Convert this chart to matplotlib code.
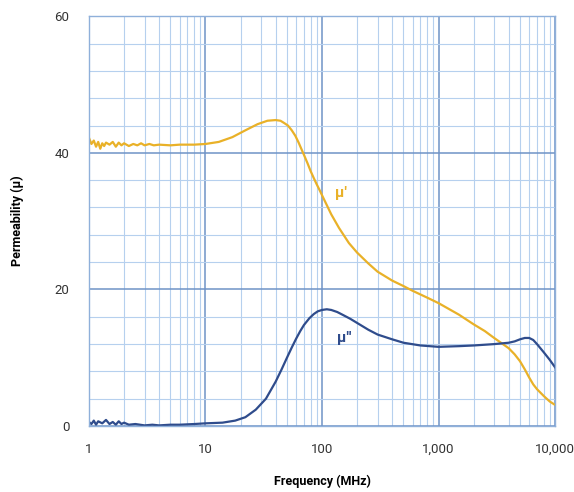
import numpy as np
import matplotlib
matplotlib.use("Agg")
import matplotlib.pyplot as plt
from matplotlib.ticker import FixedLocator, FuncFormatter

# frequency (MHz) and permeability readings
freq_real = [1.0, 1.05, 1.1, 1.15, 1.2, 1.25, 1.3, 1.35, 1.4, 1.5, 1.6, 1.7, 1.8, 1.9,
             2.0, 2.2, 2.4, 2.6, 2.8, 3.0, 3.3, 3.6, 4, 5, 6, 8, 10, 13, 17, 22, 28,
             34, 40, 44, 47, 51, 55, 59, 63, 66, 70, 75, 80, 85, 90, 95, 100, 120, 140,
             170, 200, 250, 300, 400, 500, 600, 800, 1000, 1500, 2000, 2500, 3000,
             3500, 4000, 4500, 5000, 5500, 6000, 6500, 7000, 8000, 9000, 10000]
mu_real = [42.2, 41.3, 41.8, 40.9, 41.6, 40.6, 41.4, 41.0, 41.5, 41.2, 41.6, 40.9, 41.5, 41.1,
           41.4, 41.0, 41.3, 41.1, 41.4, 41.1, 41.3, 41.1, 41.2, 41.1, 41.2, 41.2, 41.3, 41.6,
           42.3, 43.3, 44.2, 44.7, 44.8, 44.7, 44.4, 44.0, 43.3, 42.5, 41.5, 40.7, 39.7, 38.5,
           37.3, 36.3, 35.4, 34.6, 33.8, 31.0, 29.0, 26.8, 25.4, 23.8, 22.6, 21.3, 20.5, 19.8,
           18.8, 18.0, 16.3, 14.9, 13.9, 12.9, 12.1, 11.4, 10.5, 9.5, 8.3, 7.1, 6.1, 5.4, 4.4,
           3.6, 3.1]

freq_imag = [1.0, 1.05, 1.1, 1.15, 1.2, 1.3, 1.4, 1.5, 1.6, 1.7, 1.8, 1.9, 2.0, 2.2, 2.5,
             3, 3.5, 4, 5, 6, 8, 10, 14, 18, 22, 27, 33, 40, 45, 50, 55, 60, 65, 70, 78,
             85, 92, 100, 110, 120, 135, 150, 175, 200, 250, 300, 400, 500, 700, 1000,
             1500, 2000, 3000, 4000, 4500, 5000, 5500, 6000, 6500, 7000, 8000, 9000, 10000]
mu_imag = [0.6, 0.3, 0.8, 0.2, 0.7, 0.4, 0.9, 0.3, 0.6, 0.2, 0.7, 0.3, 0.5, 0.2, 0.3,
           0.1, 0.2, 0.1, 0.2, 0.2, 0.3, 0.4, 0.5, 0.8, 1.3, 2.4, 4.0, 6.5, 8.3, 10.0, 11.5,
           12.8, 13.9, 14.8, 15.8, 16.4, 16.8, 17.0, 17.1, 17.0, 16.7, 16.3, 15.7, 15.1,
           14.1, 13.4, 12.7, 12.2, 11.8, 11.6, 11.7, 11.8, 12.0, 12.2, 12.4, 12.7, 12.9,
           12.9, 12.6, 12.0, 10.8, 9.7, 8.6]

x_ticks = [1, 10, 100, 1000, 10000]
y_ticks = [0, 20, 40, 60]

gold = "#E9B128"
navy = "#2F4C8C"

plt.rcParams['font.family'] = ['Roboto', 'DejaVu Sans']

fig = plt.figure(figsize=(5.74, 4.92), dpi=100)
ax = fig.add_axes([0.155, 0.134, 0.812, 0.833])

ax.plot(freq_real, mu_real, color=gold, lw=1.6, solid_joinstyle="round")
ax.plot(freq_imag, mu_imag, color=navy, lw=1.6, solid_joinstyle="round")

ax.set_xscale("log")
ax.set_xlim(1, 10000)
ax.set_ylim(0, 60)

# grid: light minor lines, darker at decades / every 20
minor_x = [m * 10 ** d for d in range(4) for m in range(2, 10)]
ax.xaxis.set_major_locator(FixedLocator(x_ticks))
ax.xaxis.set_minor_locator(FixedLocator(minor_x))
ax.yaxis.set_major_locator(FixedLocator(y_ticks))
ax.yaxis.set_minor_locator(FixedLocator([v for v in range(4, 60, 4) if v % 20]))
ax.xaxis.set_major_formatter(FuncFormatter(lambda v, p: "{:,.0f}".format(v)))
ax.xaxis.set_minor_formatter(FuncFormatter(lambda v, p: ""))

ax.grid(which="major", color="#6F93C6", lw=1.1)
ax.grid(which="minor", color="#B6D0EE", lw=0.8)
ax.set_axisbelow(True)
for s in ax.spines.values():
    s.set_color("#8FB0DA")
    s.set_linewidth(1.0)

ax.tick_params(which="both", length=0)
ax.tick_params(axis="x", pad=12, labelsize=9.5, labelcolor="#333333")
ax.tick_params(axis="y", pad=14, labelsize=9.5, labelcolor="#333333")

ax.set_xlabel("Frequency (MHz)", fontsize=9, fontweight="bold", labelpad=14)
ax.set_ylabel("Permeability (\u03bc)", fontsize=9, fontweight="bold", labelpad=22)

ax.text(130, 33.5, "\u03bc'", color=gold, fontsize=11, fontweight="bold")
ax.text(135, 12.3, "\u03bc''", color=navy, fontsize=11, fontweight="bold")

fig.savefig("out.png", dpi=100)
